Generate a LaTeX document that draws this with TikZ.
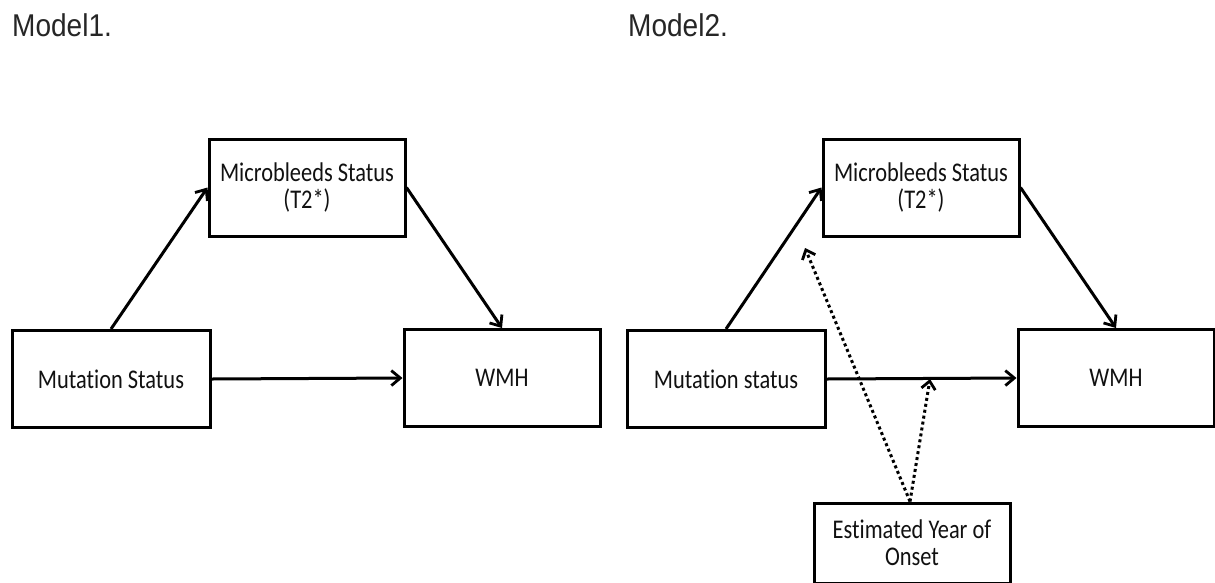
\documentclass[tikz,border=0pt]{standalone}
\usepackage{fontspec}
\setmainfont{Carlito}[FakeStretch=0.83,Ligatures=NoCommon]
\newfontfamily\arialfont{Liberation Sans}[FakeStretch=0.89]
\usetikzlibrary{arrows.meta}
\definecolor{ink}{HTML}{111111}
\definecolor{title}{HTML}{262626}
\tikzset{
  box/.style={draw=black, line width=3pt, fill=white, align=center, text=ink,
    font=\fontsize{27}{27}\selectfont, minimum width=196pt, minimum height=97pt, inner sep=0pt},
  arr/.style={line width=3pt, -{Straight Barb[length=9pt,width=15pt,line width=2.8pt]}},
  dotarr/.style={line width=3pt, dash pattern=on 3pt off 3pt, -{Straight Barb[length=8pt,width=14pt,line width=2.8pt]}},
  heading/.style={anchor=base west, inner sep=0pt, text=title, font=\arialfont\fontsize{31.5}{36}\selectfont}
}
\begin{document}
\begin{tikzpicture}[x=1pt,y=-1pt]
\path[use as bounding box, clip] (0,0) rectangle (1215,582);
\fill[white] (0,0) rectangle (1215,582);
\node[heading] (t1) at (12,36.5) {Model1.};
\node[heading] (t2) at (628,36.5) {Model2.};
% Model 1
\node[box] (mb1) at (307,187.5) {Microbleeds Status\\(T2*)};
\node[box, minimum width=198pt] (ms1) at (111,379) {Mutation Status};
\node[box] (w1) at (502,378) {WMH};
\draw[arr] (ms1.north) -- (mb1.west);
\draw[arr] (mb1.east) -- (w1.north);
\draw[arr] (ms1.east) -- (w1.west);
% Model 2
\node[box] (mb2) at (921,187.5) {Microbleeds Status\\(T2*)};
\node[box, minimum width=198pt] (ms2) at (726,379) {Mutation status};
\node[box] (w2) at (1116,378) {WMH};
\node[box, minimum height=80pt] (ey) at (912,543) {Estimated Year of\\Onset};
\draw[arr] (ms2.north) -- (mb2.west);
\draw[arr] (mb2.east) -- (w2.north);
\draw[arr] (ms2.east) -- (w2.west);
\coordinate (d1) at (805,248);
\coordinate (d2) at (930,379);
\draw[dotarr] ([xshift=-2pt]ey.north) -- (d1);
\draw[dotarr] ([xshift=-2pt]ey.north) -- (d2);
\end{tikzpicture}
\end{document}
